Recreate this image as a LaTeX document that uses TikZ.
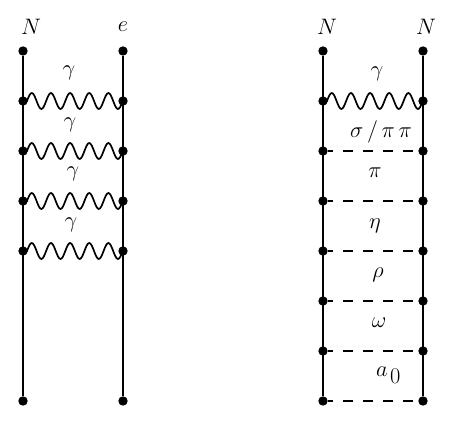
\documentclass[tikz,border=0pt]{standalone}
\usetikzlibrary{decorations.pathmorphing}

% Whole sine periods, so that the wave runs right up to the far vertex
\pgfdeclaredecoration{wave}{initial}{
    \state{initial}[width=\pgfdecorationsegmentlength]{
        \pgfpathsine{\pgfpoint{.25\pgfdecorationsegmentlength}{\pgfdecorationsegmentamplitude}}
        \pgfpathcosine{\pgfpoint{.25\pgfdecorationsegmentlength}{-\pgfdecorationsegmentamplitude}}
        \pgfpathsine{\pgfpoint{.25\pgfdecorationsegmentlength}{-\pgfdecorationsegmentamplitude}}
        \pgfpathcosine{\pgfpoint{.25\pgfdecorationsegmentlength}{\pgfdecorationsegmentamplitude}}
    }
    \state{final}{\pgfpathlineto{\pgfpointdecoratedpathlast}}
}

\begin{document}
\begin{tikzpicture}[
    x=1pt, y=-1pt,
    font=\huge,
    vertex/.style={circle, fill=black, inner sep=0pt, minimum size=9.4pt},
    fermion/.style={line width=1.7pt},
    photon/.style={line width=1.7pt, decorate, decoration={wave, amplitude=8pt, segment length=19.15pt, pre length=4pt, post length=0pt}},
    meson/.style={line width=1.7pt, dash pattern=on 10pt off 10pt, dash phase=4.5pt},
    tag/.style={scale=1.08},
    ]

    \useasboundingbox (0,0) rectangle (464,435);

    % ==========================================
    % Draw Vertices
    % ==========================================
    \foreach \col/\x in {a/23, b/123}
    {
        \foreach \row/\y in {0/51, 1/101, 2/151, 3/201, 4/251, 7/401}
        {
            \node[vertex] (\col-\row) at (\x, \y) {};
        }
    }
    \foreach \col/\x in {c/323, d/423}
    {
        \foreach \row/\y in {0/51, 1/101, 2/151, 3/201, 4/251, 5/301, 6/351, 7/401}
        {
            \node[vertex] (\col-\row) at (\x, \y) {};
        }
    }

    % ==========================================
    % Draw Lines
    % ==========================================
    \draw[fermion] (a-0) -- (a-7);
    \draw[fermion] (b-0) -- (b-7);
    \draw[fermion] (c-0) -- (c-7);
    \draw[fermion] (d-0) -- (d-7);

    \foreach \row in {1,2,3,4}
    {
        \draw[photon] (a-\row.center) -- (b-\row.center);
    }
    \draw[photon] (c-1.center) -- (d-1.center);
    \foreach \row in {2,...,7}
    {
        \draw[meson] (c-\row) -- (d-\row);
    }

    % ==========================================
    % Labels
    % ==========================================
    \node[tag] (label-n1) at (31, 27) {$N$};
    \node[tag] (label-e) at (123, 27) {$e$};
    \node[tag] (label-n2) at (327, 27) {$N$};
    \node[tag] (label-n3) at (426, 27) {$N$};

    \foreach \name/\x/\y in {g1/69/73, g2/70/125, g3/73/174, g4/71/225, g5/377/74}
    {
        \node[tag] (label-\name) at (\x, \y) {$\gamma$};
    }

    \node[tag] (label-sigma) at (381, 132) {$\sigma\,/\,\pi\,\pi$};
    \node[tag] (label-pi) at (375, 173) {$\pi$};
    \node[tag] (label-eta) at (375, 226) {$\eta$};
    \node[tag] (label-rho) at (378, 275) {$\rho$};
    \node[tag] (label-omega) at (379, 323) {$\omega$};
    \node[tag] (label-a) at (388.5, 375) {$a_{\,\textstyle 0}$};

\end{tikzpicture}
\end{document}
